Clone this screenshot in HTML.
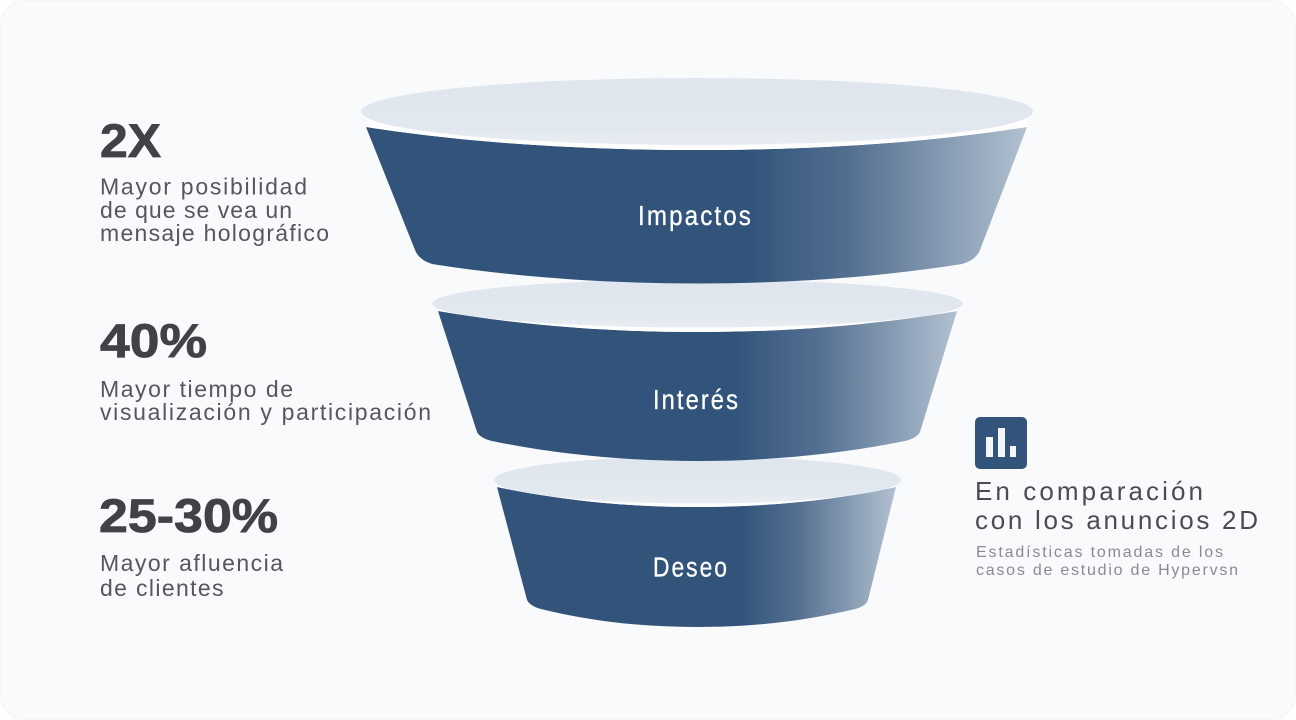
<!DOCTYPE html>
<html lang="es">
<head>
<meta charset="utf-8">
<title>Embudo</title>
<style>
html,body{margin:0;padding:0;width:1296px;height:720px;overflow:hidden;background:#ffffff}
svg{display:block}
.n{font-family:"Liberation Sans",sans-serif;font-weight:700;font-size:47px;fill:#404247;stroke:#404247;stroke-width:.8px}
.d{font-family:"Liberation Sans",sans-serif;font-size:23px;fill:#55575c}
.l{font-family:"Liberation Sans",sans-serif;font-size:27.5px;letter-spacing:2.4px;fill:#ffffff;stroke:#ffffff;stroke-width:.3px}
.h{font-family:"Liberation Sans",sans-serif;font-size:26px;fill:#4a4c51}
.s{font-family:"Liberation Sans",sans-serif;font-size:16px;fill:#898b90}
</style>
</head>
<body>
<svg width="1296" height="720" viewBox="0 0 1296 720" xmlns="http://www.w3.org/2000/svg">
<defs>
<linearGradient id="g1" gradientUnits="userSpaceOnUse" x1="366" y1="0" x2="1027" y2="0">
<stop offset="0" stop-color="#32547b"/><stop offset=".58" stop-color="#32547b"/><stop offset=".73" stop-color="#536f90"/><stop offset="1" stop-color="#b2c1d0"/>
</linearGradient>
<linearGradient id="g2" gradientUnits="userSpaceOnUse" x1="438" y1="0" x2="957" y2="0">
<stop offset="0" stop-color="#32547b"/><stop offset=".57" stop-color="#32547b"/><stop offset=".73" stop-color="#536f90"/><stop offset="1" stop-color="#b2c1d0"/>
</linearGradient>
<linearGradient id="g3" gradientUnits="userSpaceOnUse" x1="497" y1="0" x2="896" y2="0">
<stop offset="0" stop-color="#32547b"/><stop offset=".61" stop-color="#32547b"/><stop offset=".75" stop-color="#536f90"/><stop offset="1" stop-color="#b2c1d0"/>
</linearGradient>
<linearGradient id="t" x1="0" y1="0" x2="0" y2="1">
<stop offset="0" stop-color="#e0e6ee"/><stop offset=".75" stop-color="#e2e8ef"/><stop offset="1" stop-color="#e9edf3"/>
</linearGradient>
</defs>

<rect x="0.5" y="0.5" width="1295" height="719" rx="24" fill="#f9fafc" stroke="#f3f4f6"/>

<!-- Funnel 3 (back) -->
<path d="M497,487 C560,500 625,507 697,507 C770,507 835,500 896,487 L868,600 Q866,606 855,609 C805,621 755,627 697,627 C640,627 590,621 541,609 Q530,606 527,600 Z" fill="url(#g3)"/>
<path d="M497,487 C560,500 625,507 697,507 C770,507 835,500 896,487 L896,481 L497,481 Z" fill="#ffffff"/>
<ellipse cx="697.5" cy="480" rx="203.5" ry="23.5" fill="url(#t)"/>
<text class="l" x="653" y="576.5" textLength="76" lengthAdjust="spacingAndGlyphs">Deseo</text>

<!-- Funnel 2 -->
<path d="M438,311 C520,325 605,332 697,332 C790,332 875,325 957,311 L920,432 Q917,438 905,441 C840,454 770,461 697,461 C625,461 555,454 492,441 Q480,438 477,432 Z" fill="url(#g2)"/>
<path d="M438,311 C520,325 605,332 697,332 C790,332 875,325 957,311 L957,304 L438,304 Z" fill="#ffffff"/>
<ellipse cx="697.5" cy="303.5" rx="265.5" ry="24" fill="url(#t)"/>
<text class="l" x="653" y="409" textLength="87" lengthAdjust="spacingAndGlyphs">Interés</text>

<!-- Funnel 1 (front) -->
<path d="M366,127 C470,143 580,150 697,150 C815,150 925,143 1027,127 L980,250 Q976,260 962,264 C880,277 790,283.5 697,283.5 C605,283.5 515,277 432,264 Q419,260 415,250 Z" fill="url(#g1)"/>
<path d="M366,127 C470,143 580,150 697,150 C815,150 925,143 1027,127 L1027,116 L366,116 Z" fill="#ffffff"/>
<ellipse cx="697" cy="111.5" rx="336" ry="33.5" fill="url(#t)"/>
<text class="l" x="638" y="225" textLength="115" lengthAdjust="spacingAndGlyphs">Impactos</text>

<!-- Left column -->
<text class="n" x="100" y="157" textLength="61" lengthAdjust="spacingAndGlyphs">2X</text>
<text class="d" x="100" y="194.5" textLength="207" lengthAdjust="spacing">Mayor posibilidad</text>
<text class="d" x="100" y="218" textLength="192" lengthAdjust="spacing">de que se vea un</text>
<text class="d" x="100" y="241" textLength="229" lengthAdjust="spacing">mensaje holográfico</text>

<text class="n" x="100" y="357" textLength="107" lengthAdjust="spacingAndGlyphs">40%</text>
<text class="d" x="100" y="397" textLength="193" lengthAdjust="spacing">Mayor tiempo de</text>
<text class="d" x="100" y="420" textLength="331" lengthAdjust="spacing">visualización y participación</text>

<text class="n" x="99" y="532" textLength="179" lengthAdjust="spacingAndGlyphs">25-30%</text>
<text class="d" x="100" y="571" textLength="183" lengthAdjust="spacing">Mayor afluencia</text>
<text class="d" x="100" y="596" textLength="123.5" lengthAdjust="spacing">de clientes</text>

<!-- Right column -->
<rect x="975" y="417" width="52" height="52" rx="5" fill="#32547b"/>
<rect x="986" y="437" width="7" height="20" fill="#f4f6f9"/>
<rect x="998" y="428" width="7" height="29" fill="#f4f6f9"/>
<rect x="1010" y="446" width="6" height="11" fill="#f4f6f9"/>
<text class="h" x="975" y="500" textLength="228" lengthAdjust="spacing">En comparación</text>
<text class="h" x="975" y="529" textLength="283" lengthAdjust="spacing">con los anuncios 2D</text>
<text class="s" x="976" y="557" textLength="247" lengthAdjust="spacing">Estadísticas tomadas de los</text>
<text class="s" x="976" y="575" textLength="262" lengthAdjust="spacing">casos de estudio de Hypervsn</text>
</svg>
</body>
</html>
